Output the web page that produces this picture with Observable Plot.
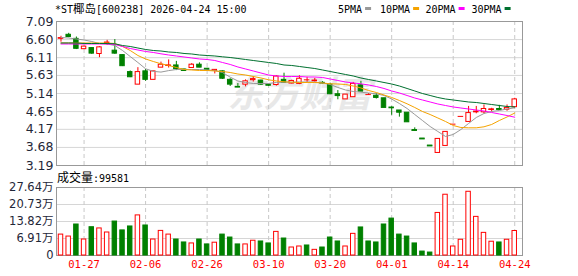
<!DOCTYPE html>
<html><head><meta charset="utf-8">
<script src="https://cdn.jsdelivr.net/npm/d3@7"></script>
<script src="https://cdn.jsdelivr.net/npm/@observablehq/plot@0.6"></script>
<style>
html,body{margin:0;padding:0;background:#fff;}
#wrap{position:relative;width:578px;height:276px;overflow:hidden;}
#wrap > svg{position:absolute;left:0;}
</style></head><body><div id="wrap"></div>
<script>
const dates = ["01-22","01-23","01-26","01-27","01-28","01-29","01-30","02-02","02-03","02-04","02-05","02-06","02-09","02-10","02-11","02-12","02-13","02-24","02-25","02-26","02-27","03-02","03-03","03-04","03-05","03-06","03-09","03-10","03-11","03-12","03-13","03-16","03-17","03-18","03-19","03-20","03-23","03-24","03-25","03-26","03-27","03-30","03-31","04-01","04-02","04-03","04-07","04-08","04-09","04-10","04-13","04-14","04-15","04-16","04-17","04-20","04-21","04-22","04-23","04-24"];
const open  = [6.63,6.73,6.62,6.34,6.37,6.21,6.50,6.30,6.18,5.72,5.38,5.74,5.51,5.84,5.89,5.90,5.79,5.83,5.92,5.81,5.75,5.74,5.51,5.32,5.38,5.50,5.49,5.38,5.37,5.51,5.41,5.40,5.51,5.47,5.43,5.38,5.12,4.98,5.04,5.36,5.11,5.08,5.01,4.76,4.68,4.62,4.15,3.92,3.73,3.53,3.72,4.31,4.52,4.37,4.63,4.63,4.70,4.72,4.70,4.77];
const high  = [6.69,6.77,6.67,6.42,6.38,6.41,6.58,6.60,6.19,5.75,5.84,5.79,5.74,5.99,6.05,6.01,5.80,5.95,5.97,5.82,5.78,5.75,5.54,5.41,5.51,5.60,5.50,5.39,5.62,5.69,5.50,5.62,5.58,5.55,5.46,5.42,5.22,5.11,5.44,5.47,5.14,5.14,5.01,4.78,4.68,4.62,4.21,3.92,3.73,3.91,4.10,4.31,4.52,4.79,4.79,4.83,4.74,4.82,4.83,5.01];
const low   = [6.53,6.65,6.33,6.33,6.20,6.11,6.44,6.20,5.87,5.57,5.38,5.47,5.51,5.84,5.83,5.76,5.74,5.83,5.84,5.77,5.67,5.52,5.33,5.30,5.32,5.45,5.36,5.33,5.34,5.42,5.40,5.38,5.44,5.45,5.40,5.12,4.97,4.98,5.04,5.19,5.09,4.99,4.75,4.55,4.50,4.36,4.12,3.91,3.72,3.53,3.72,4.31,4.52,4.37,4.59,4.59,4.64,4.68,4.66,4.77];
const close = [6.64,6.67,6.35,6.41,6.22,6.39,6.52,6.22,5.88,5.58,5.72,5.51,5.74,5.92,5.90,5.80,5.75,5.92,5.84,5.78,5.78,5.54,5.38,5.30,5.47,5.53,5.38,5.35,5.60,5.43,5.48,5.54,5.51,5.49,5.41,5.12,5.07,5.11,5.40,5.19,5.11,5.02,4.75,4.74,4.62,4.36,4.14,3.91,3.72,3.91,4.10,4.31,4.52,4.61,4.65,4.72,4.71,4.71,4.75,4.98];
// volume in 万 (10k)
const volume = [8.5,7.7,12.6,6.5,11.5,11.0,9.35,13.8,10.2,11.8,16.3,12.2,6.5,10.0,8.5,6.5,5.3,4.9,6.5,4.5,5.2,8.5,7.3,4.5,4.5,6.0,5.7,4.9,9.6,6.9,3.25,3.66,4.07,2.3,3.25,7.3,5.7,3.66,8.8,11.4,5.7,5.3,12.6,15.0,8.5,7.7,4.9,1.6,1.2,17.3,24.7,3.66,6.4,25.9,15.7,9.2,5.6,5.3,6.4,9.9581];
const volUp = [1,1,0,1,0,1,1,0,0,0,1,0,1,1,1,0,0,1,0,0,1,0,0,0,1,1,0,0,1,0,1,1,0,1,0,0,0,1,1,0,0,0,0,0,0,0,0,0,0,1,1,1,1,1,1,1,1,0,1,1];
const ma5  = [6.657,6.643,6.616,6.589,6.548,6.494,6.481,6.440,6.305,6.142,5.980,5.810,5.740,5.720,5.760,5.790,5.790,5.790,5.790,5.777,5.763,5.709,5.582,5.479,5.438,5.411,5.411,5.411,5.438,5.446,5.446,5.452,5.452,5.446,5.425,5.384,5.303,5.235,5.194,5.175,5.154,5.132,5.086,4.991,4.869,4.734,4.571,4.409,4.246,4.111,3.976,4.030,4.165,4.328,4.490,4.598,4.653,4.680,4.720,4.753];
const ma10 = [6.508,6.508,6.508,6.508,6.508,6.508,6.508,6.494,6.413,6.305,6.169,6.075,6.007,5.945,5.899,5.844,5.790,5.777,5.763,5.763,5.750,5.736,5.709,5.668,5.641,5.601,5.560,5.511,5.479,5.457,5.446,5.438,5.438,5.438,5.425,5.403,5.397,5.384,5.343,5.289,5.221,5.167,5.100,5.032,4.951,4.861,4.761,4.653,4.571,4.477,4.382,4.274,4.219,4.211,4.211,4.238,4.301,4.409,4.504,4.612];
const ma20 = [6.481,6.481,6.481,6.481,6.481,6.481,6.481,6.467,6.413,6.359,6.318,6.278,6.251,6.215,6.183,6.156,6.129,6.102,6.075,6.061,6.034,5.980,5.926,5.858,5.804,5.750,5.695,5.641,5.614,5.601,5.601,5.601,5.587,5.587,5.574,5.533,5.492,5.452,5.425,5.403,5.370,5.330,5.276,5.208,5.154,5.086,5.018,4.964,4.910,4.856,4.815,4.775,4.747,4.720,4.693,4.666,4.626,4.585,4.544,4.498];
const ma30 = [6.508,6.508,6.508,6.494,6.494,6.494,6.494,6.486,6.440,6.413,6.372,6.332,6.305,6.291,6.264,6.251,6.224,6.210,6.183,6.169,6.156,6.134,6.115,6.088,6.061,6.034,6.007,5.980,5.953,5.912,5.899,5.872,5.844,5.817,5.777,5.736,5.695,5.655,5.614,5.560,5.519,5.479,5.438,5.397,5.343,5.276,5.208,5.140,5.086,5.032,4.991,4.964,4.937,4.910,4.896,4.869,4.842,4.815,4.788,4.775];
const maNames = ["5PMA","10PMA","20PMA","30PMA"];
const maColors = ["#999999","#f5a300","#ff00ff","#00702f"];
const priceTicks = [7.09,6.60,6.11,5.63,5.14,4.65,4.17,3.68,3.19];
const volTicks = [0,6.91,13.82,20.73,27.64];
const dateTicks = ["01-27","02-06","02-26","03-10","03-20","04-01","04-14","04-24"];
const titleParts = ["*ST","椰岛","[600238] 2026-04-24 15:00"];
const volLabel = ["成交量", ":99581"];

const RED = "#ff0000", GREEN = "#008000";
const W = 578, xDomain = [-0.585, 60.01];
const MONO = "DejaVu Sans Mono, monospace", CJK = "Noto Sans CJK SC, sans-serif";
const candles = dates.map((d, i) => ({i, date: d, o: open[i], h: high[i], l: low[i], c: close[i], v: volume[i], up: close[i] >= open[i], vUp: !!volUp[i]}));
const tickIdx = dateTicks.map(t => dates.indexOf(t));
const maSeries = [ma5, ma10, ma20, ma30];
const hw = 0.29;

const wrap = document.getElementById("wrap");

const price = Plot.plot({
  width: W, height: 170, marginLeft: 56, marginRight: 56, marginTop: 21, marginBottom: 5,
  style: {fontFamily: "DejaVu Sans, sans-serif", background: "transparent", overflow: "visible"},
  x: {type: "linear", domain: xDomain, axis: null, label: null},
  y: {domain: [3.19, 7.09], axis: null, label: null},
  color: {type: "identity"},
  marks: [
    Plot.text(["东方财富"], {frameAnchor: "middle", dx: 10, dy: 2, fontSize: 36, fontWeight: "bold", fontStyle: "italic", fontFamily: CJK, fill: "#e8e8e8"}),
    Plot.ruleY(priceTicks, {stroke: "#d6d6d6"}),
    Plot.ruleX(tickIdx, {stroke: "#c8c8c8", strokeDasharray: "4,3"}),
    Plot.frame({stroke: "#999"}),
    Plot.axisY(priceTicks, {label: null, tickSize: 0, tickPadding: 3, tickFormat: d => d.toFixed(2), fontSize: 12.5, fill: "#1f2738"}),
    Plot.ruleX(candles, {x: "i", y1: "l", y2: "h", stroke: d => d.up ? RED : GREEN}),
    Plot.rect(candles, {x1: d => d.i - hw, x2: d => d.i + hw, y1: "o", y2: "c", fill: d => d.up ? "#fff" : GREEN, stroke: d => d.up ? RED : GREEN}),
    Plot.ruleY(candles.filter(d => Math.abs(d.o - d.c) < 0.015), {y: "c", x1: d => d.i - hw - 0.07, x2: d => d.i + hw + 0.07, stroke: d => d.up ? RED : GREEN}),
    ...maSeries.map((arr, k) => Plot.line(arr, {x: (d, i) => i, y: d => d, stroke: maColors[k], strokeWidth: 1}))
  ]
});
price.style.top = "0px";
wrap.appendChild(price);

const vol = Plot.plot({
  width: W, height: 106, marginLeft: 56, marginRight: 56, marginTop: 17, marginBottom: 21,
  style: {fontFamily: "DejaVu Sans, sans-serif", background: "transparent", overflow: "visible"},
  x: {type: "linear", domain: xDomain, axis: null, label: null},
  y: {domain: [0, 27.64], axis: null, label: null},
  color: {type: "identity"},
  marks: [
    Plot.ruleY(volTicks, {stroke: "#d6d6d6"}),
    Plot.ruleX(tickIdx, {stroke: "#c8c8c8", strokeDasharray: "4,3"}),
    Plot.frame({stroke: "#999"}),
    Plot.axisY(volTicks, {label: null, tickSize: 0, tickPadding: 3, tickFormat: d => d === 0 ? "0" : d.toFixed(2) + "万", fontSize: 11.5, fill: "#1f2738", fontFamily: "DejaVu Sans, Noto Sans CJK SC, sans-serif"}),
    Plot.axisX(tickIdx, {label: null, tickSize: 0, tickPadding: 5, tickFormat: i => dates[i], fill: RED, fontSize: 10.5, fontFamily: MONO}),
    Plot.rect(candles, {x1: d => d.i - hw, x2: d => d.i + hw, y1: 0, y2: "v", fill: d => d.vUp ? "#fff" : GREEN, stroke: d => d.vUp ? RED : GREEN})
  ]
});
vol.style.top = "170px";
wrap.appendChild(vol);

// overlay texts: title, legend, volume label
const ov = d3.create("svg").attr("width", W).attr("height", 276).style("top", "0px").style("pointer-events", "none");
const t = ov.append("text").attr("x", 55).attr("y", 13).attr("fill", "#000");
t.append("tspan").attr("font-family", MONO).attr("font-size", 10).text(titleParts[0]);
t.append("tspan").attr("font-family", CJK).attr("font-size", 11.5).text(titleParts[1]);
t.append("tspan").attr("font-family", MONO).attr("font-size", 10).text(titleParts[2]);

const legX = [338, 380, 425.5, 471.5];
maNames.forEach((n, k) => {
  ov.append("text").attr("x", legX[k]).attr("y", 13).attr("font-family", MONO).attr("font-size", 10).attr("fill", "#000").text(n);
  ov.append("rect").attr("x", legX[k] + n.length * 6.02 + 3).attr("y", 7).attr("width", 6).attr("height", 3).attr("fill", maColors[k]);
});

const vl = ov.append("text").attr("x", 57).attr("y", 182).attr("fill", "#000");
vl.append("tspan").attr("font-family", CJK).attr("font-size", 12).text(volLabel[0]);
vl.append("tspan").attr("font-family", MONO).attr("font-size", 10).text(volLabel[1]);
wrap.appendChild(ov.node());
</script>
</body></html>
